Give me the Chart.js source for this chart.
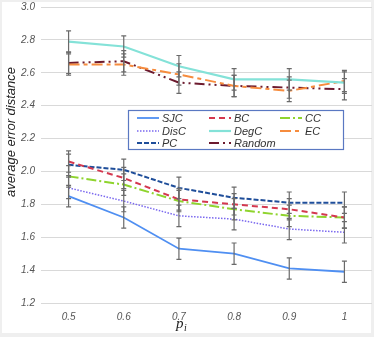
<!DOCTYPE html>
<html lang="en">
<head>
<meta charset="UTF-8">
<title>average error distance</title>
<script src="https://cdn.jsdelivr.net/npm/chart.js"></script>
<style>
    body { margin: 0; background: #efefef; }
    #frame { position: relative; width: 374px; height: 337px; background: #efefef; }
    #panel { position: absolute; left: 2px; top: 2px; width: 369px; height: 331px; background: #fff; }
    #chartBox { position: absolute; left: 0; top: 0; width: 374px; height: 337px; }
</style>
</head>
<body>
<div id="frame">
    <div id="panel"></div>
    <div id="chartBox"><canvas id="errChart"></canvas></div>
</div>
<script>
const xLabels = ['0.5', '0.6', '0.7', '0.8', '0.9', '1'];
const yTicks = [1.2, 1.4, 1.6, 1.8, 2.0, 2.2, 2.4, 2.6, 2.8, 3.0];

const sjc    = [1.85, 1.72, 1.53, 1.50, 1.41, 1.39];
const bc     = [2.06, 1.96, 1.83, 1.80, 1.77, 1.72];
const cc     = [1.97, 1.92, 1.82, 1.77, 1.73, 1.72];
const disc   = [1.90, 1.82, 1.73, 1.71, 1.65, 1.63];
const degc   = [2.79, 2.76, 2.64, 2.56, 2.56, 2.54];
const ec     = [2.65, 2.65, 2.59, 2.52, 2.49, 2.55];
const pc     = [2.04, 2.01, 1.90, 1.84, 1.81, 1.81];
const random = [2.66, 2.67, 2.54, 2.52, 2.51, 2.50];

// half height of the error bars (same for every series)
const errHalf = [0.065, 0.065, 0.065, 0.065, 0.065, 0.065];

const series = [
    { label: 'SJC',    data: sjc,    color: '#4f8ff2', dash: [],               width: 1.8 },
    { label: 'BC',     data: bc,     color: '#d4384f', dash: [6, 4],           width: 2 },
    { label: 'CC',     data: cc,     color: '#8fd42e', dash: [10, 3, 2, 3],    width: 2 },
    { label: 'DisC',   data: disc,   color: '#7a68ef', dash: [1.5, 1.5],       width: 1.5 },
    { label: 'DegC',   data: degc,   color: '#84e2d8', dash: [],               width: 2.2 },
    { label: 'EC',     data: ec,     color: '#f68c3e', dash: [11, 4, 4, 4],    width: 2 },
    { label: 'PC',     data: pc,     color: '#1f4e9a', dash: [5, 2],           width: 2 },
    { label: 'Random', data: random, color: '#6c1a2e', dash: [10, 4, 2, 4, 2, 4], width: 2 }
];

const datasets = series.map(s => ({
    label: s.label,
    data: s.data,
    borderColor: s.color,
    backgroundColor: s.color,
    borderDash: s.dash,
    borderWidth: s.width,
    pointRadius: 0,
    tension: 0,
    fill: false
}));

// error bars, axis titles and the boxed legend
const extras = {
    id: 'extras',
    afterDatasetsDraw(chart) {
        const ctx = chart.ctx;
        const xs = chart.scales.x, ys = chart.scales.y;
        ctx.save();
        ctx.strokeStyle = '#6a6a6a';
        ctx.lineWidth = 1.2;
        ctx.setLineDash([]);
        series.forEach(s => {
            s.data.forEach((v, i) => {
                const x = xs.getPixelForValue(i);
                const t = ys.getPixelForValue(v + errHalf[i]);
                const b = ys.getPixelForValue(v - errHalf[i]);
                ctx.beginPath();
                ctx.moveTo(x, t); ctx.lineTo(x, b);
                ctx.moveTo(x - 2.5, t); ctx.lineTo(x + 2.5, t);
                ctx.moveTo(x - 2.5, b); ctx.lineTo(x + 2.5, b);
                ctx.stroke();
            });
        });

        // y title
        ctx.fillStyle = '#222';
        ctx.font = 'italic 13px "Liberation Sans", Arial, sans-serif';
        ctx.textAlign = 'center';
        ctx.textBaseline = 'middle';
        ctx.translate(11, 132);
        ctx.rotate(-Math.PI / 2);
        ctx.fillText('average error distance', 0, 0);
        ctx.restore();

        // x title p_i
        ctx.save();
        ctx.fillStyle = '#222';
        ctx.font = 'italic 15px "Liberation Serif", serif';
        ctx.textBaseline = 'alphabetic';
        ctx.fillText('p', 176, 328);
        ctx.font = 'italic 10px "Liberation Serif", serif';
        ctx.fillText('i', 184, 331);
        ctx.restore();

        // legend box
        ctx.save();
        ctx.fillStyle = '#fff';
        ctx.fillRect(128, 110, 215, 39);
        ctx.strokeStyle = '#5a78c2';
        ctx.lineWidth = 1.2;
        ctx.strokeRect(128.5, 110.5, 215, 39);
        const cols = [137, 209, 280];
        const rows = [118, 131, 143];
        ctx.font = 'italic 11px "Liberation Sans", Arial, sans-serif';
        ctx.textBaseline = 'middle';
        ctx.textAlign = 'left';
        series.forEach((s, k) => {
            const cx = cols[k % 3], cy = rows[Math.floor(k / 3)];
            ctx.strokeStyle = s.color;
            ctx.lineWidth = s.width;
            ctx.setLineDash(s.dash);
            ctx.beginPath();
            ctx.moveTo(cx, cy); ctx.lineTo(cx + 22, cy);
            ctx.stroke();
            ctx.setLineDash([]);
            ctx.fillStyle = '#333';
            ctx.fillText(s.label, cx + 25, cy + 0.5);
        });
        ctx.restore();
    }
};

new Chart(document.getElementById('errChart'), {
    type: 'line',
    data: { labels: xLabels, datasets: datasets },
    options: {
        responsive: true,
        maintainAspectRatio: false,
        animation: false,
        layout: { padding: { top: 7, right: 2, left: 0, bottom: 0 } },
        plugins: { legend: { display: false }, tooltip: { enabled: false } },
        scales: {
            x: {
                offset: true,
                grid: { display: false },
                border: { display: false },
                ticks: {
                    color: '#555',
                    font: { family: '"Liberation Sans", Arial, sans-serif', size: 10, style: 'italic' },
                    padding: 0,
                    maxRotation: 0
                },
                afterFit(scale) {
                    scale.height = 34;
                    scale.paddingLeft = 0; scale.paddingRight = 0;
                }
            },
            y: {
                min: 1.2,
                max: 3.0,
                afterBuildTicks(scale) { scale.ticks = yTicks.map(v => ({ value: v })); },
                grid: { color: '#d9d9d9', drawTicks: false, lineWidth: 1 },
                border: { display: false },
                ticks: {
                    color: '#555',
                    font: { family: '"Liberation Sans", Arial, sans-serif', size: 10, style: 'italic' },
                    padding: 6,
                    callback: v => Number(v).toFixed(1)
                },
                afterFit(scale) {
                    scale.width = 41;
                    scale.paddingTop = 0; scale.paddingBottom = 0;
                }
            }
        }
    },
    plugins: [extras]
});
</script>
</body>
</html>
